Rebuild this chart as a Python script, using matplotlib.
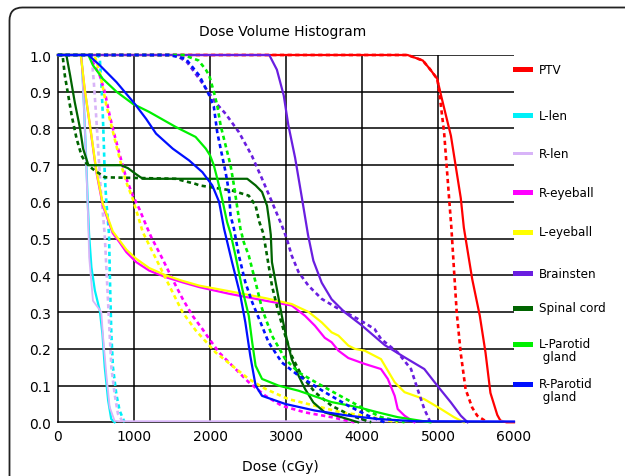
import matplotlib
matplotlib.use("Agg")
import matplotlib.pyplot as plt
from matplotlib import font_manager
from matplotlib.patches import Rectangle, PathPatch
from matplotlib.path import Path
from matplotlib.transforms import IdentityTransform

# dose (cGy) / volume fraction, solid = plan 1, dotted = plan 2
ptv_d = [0, 4600, 4800, 4900, 4990, 5040, 5170, 5300, 5340, 5450, 5550, 5625, 5690, 5780, 5820, 5900, 6000]
ptv_v = [1, 1, 0.985, 0.96, 0.935, 0.89, 0.78, 0.61, 0.53, 0.39, 0.29, 0.19, 0.08, 0.02, 0.005, 0, 0]
ptv2_d = [0, 4600, 4800, 4900, 4990, 5016, 5080, 5146, 5176, 5212, 5246, 5298, 5363, 5450, 5516, 5650]
ptv2_v = [1, 1, 0.985, 0.96, 0.935, 0.90, 0.79, 0.61, 0.53, 0.41, 0.30, 0.19, 0.09, 0.04, 0.018, 0]

llen_d = [0, 310, 340, 370, 395, 409, 440, 485, 550, 585, 615, 660, 700, 745]
llen_v = [1, 1, 0.87, 0.72, 0.58, 0.513, 0.422, 0.359, 0.304, 0.24, 0.15, 0.059, 0.009, 0]
llen2_d = [0, 520, 550, 570, 590, 605, 615, 636, 671, 680, 690, 702, 723, 767, 810, 876]
llen2_v = [1, 1, 0.99, 0.926, 0.835, 0.745, 0.672, 0.60, 0.513, 0.422, 0.331, 0.24, 0.15, 0.077, 0.032, 0]

rlen_d = [0, 310, 360, 396, 410, 460, 570, 590, 635, 680, 745, 800, 6000]
rlen_v = [1, 1, 0.77, 0.56, 0.45, 0.331, 0.30, 0.24, 0.132, 0.041, 0.004, 0.003, 0.003]
rlen2_d = [0, 440, 470, 500, 530, 560, 614, 636, 658, 680, 702, 745, 789, 855]
rlen2_v = [1, 1, 0.93, 0.84, 0.74, 0.64, 0.513, 0.422, 0.331, 0.24, 0.15, 0.077, 0.023, 0]

reye_d = [0, 300, 350, 420, 505, 590, 720, 810, 900, 1030, 1200, 1420, 1640, 1860, 2250, 2730, 3075,
          3250, 3380, 3510, 3600, 3690, 3820, 4035, 4250, 4340, 4430, 4470, 4560, 4690]
reye_v = [1, 1, 0.908, 0.808, 0.681, 0.59, 0.515, 0.49, 0.463, 0.436, 0.413, 0.395, 0.381, 0.368, 0.35,
          0.331, 0.318, 0.29, 0.263, 0.23, 0.218, 0.195, 0.175, 0.159, 0.145, 0.118, 0.072, 0.036, 0.018, 0]
reye2_d = [0, 420, 460, 550, 615, 680, 745, 810, 900, 985, 1070, 1160, 1225, 1375, 1505, 1640, 1770,
           1900, 1990, 2120, 2250, 2510, 2730, 2945, 3250, 3600, 3900]
reye2_v = [1, 1, 0.98, 0.944, 0.90, 0.835, 0.781, 0.73, 0.663, 0.617, 0.581, 0.536, 0.505, 0.445, 0.39,
           0.336, 0.29, 0.254, 0.227, 0.19, 0.163, 0.109, 0.072, 0.045, 0.027, 0.014, 0]

leye_d = [0, 300, 350, 420, 505, 590, 720, 810, 900, 1030, 1200, 1420, 1640, 1860, 2250, 2730, 3075,
          3300, 3470, 3600, 3690, 3820, 3905, 4035, 4250, 4430, 4560, 4820, 5040, 5210, 5340]
leye_v = [1, 1, 0.91, 0.81, 0.685, 0.595, 0.52, 0.495, 0.47, 0.445, 0.42, 0.40, 0.385, 0.372, 0.357,
          0.338, 0.322, 0.30, 0.272, 0.245, 0.236, 0.209, 0.20, 0.195, 0.172, 0.109, 0.082, 0.063,
          0.036, 0.014, 0]
leye2_d = [0, 480, 560, 636, 702, 767, 833, 898, 984, 1050, 1115, 1203, 1333, 1464, 1638, 1813, 2075,
           2292, 2510, 2728, 3033, 3382, 3729, 4035, 4470]
leye2_v = [1, 1, 0.944, 0.863, 0.808, 0.754, 0.70, 0.654, 0.608, 0.563, 0.518, 0.481, 0.427, 0.372,
           0.30, 0.25, 0.19, 0.154, 0.118, 0.091, 0.063, 0.045, 0.027, 0.018, 0]

brain_d = [0, 2780, 2880, 2970, 3030, 3120, 3210, 3290, 3360, 3470, 3600, 3770, 3990, 4300, 4560,
           4820, 4990, 5170, 5300, 5390]
brain_v = [1, 1, 0.96, 0.89, 0.81, 0.72, 0.61, 0.51, 0.44, 0.38, 0.335, 0.30, 0.265, 0.21, 0.177,
           0.145, 0.10, 0.054, 0.018, 0]
brain2_d = [0, 1550, 1700, 1860, 2075, 2205, 2380, 2550, 2685, 2815, 2945, 3010, 3075, 3165, 3295,
            3470, 3690, 3950, 4165, 4250, 4470, 4645, 4730, 4820, 4900]
brain2_v = [1, 1, 0.98, 0.935, 0.87, 0.84, 0.79, 0.726, 0.663, 0.60, 0.536, 0.50, 0.454, 0.409, 0.372,
            0.336, 0.309, 0.281, 0.254, 0.227, 0.19, 0.145, 0.091, 0.036, 0]

cord_d = [0, 110, 160, 220, 290, 330, 400, 830, 920, 1030, 1115, 2490, 2600, 2685, 2750, 2780, 2800,
          2815, 2880, 2945, 3010, 3075, 3165, 3250, 3360, 3510, 3730, 3950]
cord_v = [1, 1, 0.944, 0.872, 0.80, 0.745, 0.70, 0.70, 0.692, 0.675, 0.663, 0.663, 0.645, 0.627, 0.59,
          0.545, 0.51, 0.436, 0.363, 0.29, 0.227, 0.172, 0.127, 0.091, 0.054, 0.027, 0.014, 0]
cord2_d = [0, 60, 90, 135, 180, 245, 310, 375, 455, 615, 1550, 1640, 1810, 1860, 2290, 2510, 2600,
           2650, 2700, 2750, 2815, 2900, 2990, 3075, 3205, 3380, 3600, 3860, 4120]
cord2_v = [1, 1, 0.944, 0.89, 0.835, 0.772, 0.726, 0.704, 0.69, 0.667, 0.663, 0.658, 0.649, 0.645,
           0.631, 0.617, 0.59, 0.545, 0.515, 0.454, 0.372, 0.30, 0.236, 0.181, 0.127, 0.082, 0.045,
           0.018, 0]

lpar_d = [0, 400, 460, 590, 770, 985, 1200, 1550, 1810, 1945, 2000, 2050, 2100, 2160, 2225, 2270,
          2335, 2425, 2510, 2555, 2600, 2685, 2900, 3165, 3600, 3950, 4210, 4470, 4900]
lpar_v = [1, 1, 0.972, 0.935, 0.90, 0.867, 0.845, 0.804, 0.777, 0.745, 0.727, 0.70, 0.66, 0.608,
          0.545, 0.515, 0.454, 0.363, 0.29, 0.218, 0.154, 0.118, 0.10, 0.086, 0.055, 0.041, 0.027,
          0.014, 0]
lpar2_d = [0, 1650, 1850, 1945, 1990, 2050, 2095, 2140, 2205, 2270, 2315, 2355, 2400, 2445, 2510,
           2600, 2685, 2815, 2990, 3165, 3425, 3730, 4035, 4250, 4560]
lpar2_v = [1, 1, 0.985, 0.96, 0.944, 0.90, 0.863, 0.808, 0.754, 0.70, 0.645, 0.59, 0.527, 0.49,
           0.454, 0.381, 0.309, 0.236, 0.172, 0.136, 0.105, 0.07, 0.036, 0.014, 0]

rpar_d = [0, 400, 550, 770, 1010, 1160, 1290, 1510, 1725, 1900, 2030, 2120, 2185, 2290, 2400, 2465,
          2530, 2600, 2685, 2990, 3380, 3820, 4210, 4690, 6000]
rpar_v = [1, 1, 0.972, 0.926, 0.867, 0.826, 0.786, 0.745, 0.713, 0.681, 0.645, 0.60, 0.527, 0.436,
          0.345, 0.272, 0.181, 0.10, 0.072, 0.05, 0.032, 0.018, 0.009, 0.003, 0.002]
rpar2_d = [0, 1460, 1680, 1860, 1990, 2050, 2095, 2140, 2205, 2250, 2270, 2315, 2380, 2465, 2555,
           2665, 2770, 2945, 3165, 3510, 3820, 4080, 4300]
rpar2_v = [1, 1, 0.99, 0.944, 0.89, 0.86, 0.79, 0.745, 0.681, 0.627, 0.563, 0.527, 0.454, 0.381,
           0.327, 0.272, 0.218, 0.163, 0.127, 0.082, 0.045, 0.018, 0]

names = ["PTV", "L-len", "R-len", "R-eyeball", "L-eyeball", "Brainsten", "Spinal cord",
         "L-Parotid\n gland", "R-Parotid\n gland"]
colors = ["#ff0000", "#00f0f8", "#d8b4f8", "#ff00ff", "#ffff00", "#6a1ee0", "#006400",
          "#00f000", "#0010ff"]
solid = [(ptv_d, ptv_v), (llen_d, llen_v), (rlen_d, rlen_v), (reye_d, reye_v), (leye_d, leye_v),
         (brain_d, brain_v), (cord_d, cord_v), (lpar_d, lpar_v), (rpar_d, rpar_v)]
dotted = [(ptv2_d, ptv2_v), (llen2_d, llen2_v), (rlen2_d, rlen2_v), (reye2_d, reye2_v),
          (leye2_d, leye2_v), (brain2_d, brain2_v), (cord2_d, cord2_v), (lpar2_d, lpar2_v),
          (rpar2_d, rpar2_v)]

xticks = [0, 1000, 2000, 3000, 4000, 5000, 6000]
yticks = [0.0, 0.1, 0.2, 0.3, 0.4, 0.5, 0.6, 0.7, 0.8, 0.9, 1.0]

W, H = 625, 477
fig = plt.figure(figsize=(W / 100, H / 100), dpi=100)
ax = fig.add_axes([58 / W, (H - 423.3) / H, (514 - 58) / W, (423.3 - 56) / H])

# frame round the chart, only its left side, top and top-left corner are in the picture
# (pixel coords, origin bottom-left)
fx, fy, r = 9.5, H - 8.5, 13
frame = Path([(fx, -5), (fx, fy - r), (fx, fy), (fx + r, fy), (W + 5, fy)],
             [Path.MOVETO, Path.LINETO, Path.CURVE3, Path.CURVE3, Path.LINETO])
fig.patches.append(PathPatch(frame, transform=IdentityTransform(), fc="none",
                             ec="#222222", lw=1.3))

ax.vlines(xticks[1:-1], 0, 1, colors="black", lw=1.1, zorder=1)
ax.hlines(yticks[1:], 0, 6000, colors="black", lw=1.1, zorder=1)

for (d, v), (d2, v2), c in zip(solid, dotted, colors):
    lw = 1.3 if c == "#d8b4f8" else 1.6
    ax.plot(d2, v2, color=c, lw=1.9, ls=(0, (1.6, 1.3)), clip_on=False, zorder=3)
    ax.plot(d, v, color=c, lw=lw, clip_on=False, zorder=3)

ax.set_xlim(0, 6000)
ax.set_ylim(0, 1.0)
ax.set_xticks(xticks)
ax.set_xticklabels([str(t) for t in xticks])
ax.set_yticks(yticks)
ax.set_yticklabels(["%.1f" % t for t in yticks])
ax.tick_params(length=0, labelsize=10, pad=5)
for s in ["top", "right"]:
    ax.spines[s].set_visible(False)
for s in ["left", "bottom"]:
    ax.spines[s].set_linewidth(1.1)
    ax.spines[s].set_zorder(2)

fig.text(283 / W, 1 - 32 / H, "Dose Volume Histogram", ha="center", va="center", fontsize=10)
fig.text(280 / W, 1 - 467 / H, "Dose (cGy)", ha="center", va="center", fontsize=10)

# legend drawn by hand, entries are not evenly spaced in the original
has_cond = any("Condensed" in f.fname and "DejaVuSans" in f.fname.replace("-", "")
               for f in font_manager.fontManager.ttflist)
leg_kw = dict(family="DejaVu Sans", fontstretch="condensed", fontsize=9.5) if has_cond \
    else dict(family="DejaVu Sans", fontsize=9)
leg_y = [70, 116, 154, 193, 233, 274, 309, 345, 385]
for name, c, yy in zip(names, colors, leg_y):
    hgt = 3 if c == "#d8b4f8" else 5
    fig.patches.append(Rectangle((513 / W, (H - yy - hgt / 2) / H), 20 / W, hgt / H,
                                 transform=fig.transFigure, fc=c, ec="none"))
    ty = yy + 6 if "\n" in name else yy
    fig.text(539 / W, 1 - ty / H, name, ha="left", va="center", linespacing=1.0, **leg_kw)

fig.savefig("out.png", dpi=100)
